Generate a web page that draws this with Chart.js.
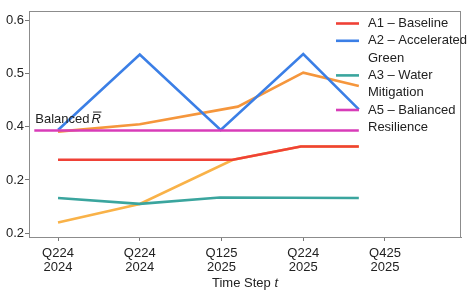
<!DOCTYPE html>
<html>
<head>
<meta charset="utf-8">
<script src="https://cdn.jsdelivr.net/npm/chart.js@4.4.1/dist/chart.umd.min.js"></script>
<style>
  html, body { margin: 0; padding: 0; background: #fff; overflow: hidden; }
  #wrap { position: absolute; left: -6px; top: 0; width: 477px; height: 294px; }
</style>
</head>
<body>
<div id="wrap"><canvas id="chart"></canvas></div>
<script>
// tick positions / labels
const xTickPos = [0, 1, 2, 3, 4];
const xTickLabels = [['Q224', '2024'], ['Q224', '2024'], ['Q125', '2025'], ['Q224', '2025'], ['Q425', '2025']];
const yTickPos = [0.2, 0.3, 0.4, 0.5, 0.6];
const yTickLabels = ['0.2', '0.2', '0.4', '0.5', '0.6'];

// series (x = time step index, y = value)
const a1X = [0, 2.14, 2.97, 3.68];
const a1Y = [0.338, 0.338, 0.363, 0.363];
const a2X = [0, 1, 1.99, 3, 3.68];
const a2Y = [0.394, 0.536, 0.394, 0.537, 0.433];
const a3X = [0, 1, 1.98, 3.68];
const a3Y = [0.266, 0.255, 0.267, 0.266];
const a5X = [-0.29, 3.68];
const a5Y = [0.393, 0.393];
const a4aX = [0, 1, 2.2, 3, 3.68];
const a4aY = [0.391, 0.405, 0.438, 0.502, 0.477];
const a4bX = [0, 1, 2.14, 2.97, 3.68];
const a4bY = [0.220, 0.255, 0.338, 0.363, 0.363];

const legendLines = [['A1 – Baseline'], ['A2 – Accelerated', 'Green'], ['A3 – Water', 'Mitigation'], ['A5 – Balianced', 'Resilience']];

const pts = (xs, ys) => xs.map((x, i) => ({ x: x, y: ys[i] }));
const FONT = "'Liberation Sans', Arial, sans-serif";
const FS = 13;

function line(label, xs, ys, color, order, inLegend) {
  return {
    label: label,
    data: pts(xs, ys),
    borderColor: color,
    backgroundColor: color,
    borderWidth: 2.6,
    pointRadius: 0,
    tension: 0,
    fill: false,
    order: order,
    inLegend: inLegend
  };
}

const extras = {
  id: 'extras',
  afterDraw(chart) {
    const ctx = chart.ctx;
    const a = chart.chartArea;
    const xs = chart.scales.x, ys = chart.scales.y;
    ctx.save();
    // frame
    ctx.strokeStyle = '#8c8c8c';
    ctx.lineWidth = 1;
    ctx.strokeRect(a.left + 0.5, a.top + 0.5, a.right - a.left - 1, a.bottom - a.top);

    // annotation
    ctx.fillStyle = '#222';
    ctx.textBaseline = 'alphabetic';
    ctx.textAlign = 'left';
    ctx.font = FS + 'px ' + FONT;
    const ax = xs.getPixelForValue(a5X[0]) + 1;
    const ay = ys.getPixelForValue(a5Y[0]) - 8;
    ctx.fillText('Balanced', ax, ay);
    const w1 = ctx.measureText('Balanced').width + 2;
    ctx.font = 'italic ' + FS + 'px ' + FONT;
    ctx.fillText('R', ax + w1, ay);
    const rw = ctx.measureText('R').width;
    ctx.fillRect(ax + w1 + 1.5, ay - 11, rw - 1, 1);

    // axis title
    ctx.font = FS + 'px ' + FONT;
    const t1 = 'Time Step ';
    const tw1 = ctx.measureText(t1).width;
    ctx.font = 'italic ' + FS + 'px ' + FONT;
    const tw2 = ctx.measureText('t').width;
    const tx = (a.left + a.right) / 2 - (tw1 + tw2) / 2;
    ctx.font = FS + 'px ' + FONT;
    ctx.fillText(t1, tx, 287);
    ctx.font = 'italic ' + FS + 'px ' + FONT;
    ctx.fillText('t', tx + tw1, 287);

    // legend
    ctx.font = FS + 'px ' + FONT;
    ctx.textBaseline = 'middle';
    const legendSets = chart.data.datasets.filter(d => d.inLegend);
    let k = 0;
    legendSets.forEach((d, i) => {
      const y = a.top + 12.5 + 17.3 * k;
      ctx.strokeStyle = d.borderColor;
      ctx.lineWidth = 2.6;
      ctx.beginPath();
      ctx.moveTo(a.right - 125, y);
      ctx.lineTo(a.right - 102, y);
      ctx.stroke();
      legendLines[i].forEach(txt => {
        ctx.fillStyle = '#222';
        ctx.fillText(txt, a.right - 93, a.top + 12.5 + 17.3 * k);
        k++;
      });
    });
    ctx.restore();
  }
};

new Chart(document.getElementById('chart'), {
  type: 'line',
  data: {
    datasets: [
      line('A1 – Baseline', a1X, a1Y, '#ef4136', 1, true),
      line('A2 – Accelerated Green', a2X, a2Y, '#3b7fe6', 2, true),
      line('A3 – Water Mitigation', a3X, a3Y, '#3aa59e', 4, true),
      line('A5 – Balianced Resilience', a5X, a5Y, '#d83cb8', 0, true),
      line('A4 upper', a4aX, a4aY, '#f5963c', 3, false),
      line('A4 lower', a4bX, a4bY, '#f9b248', 5, false)
    ]
  },
  options: {
    responsive: true,
    maintainAspectRatio: false,
    animation: false,
    devicePixelRatio: 1,
    layout: { padding: { top: 11, right: 10, left: 0, bottom: 0 } },
    plugins: { legend: { display: false }, tooltip: { enabled: false } },
    scales: {
      x: {
        type: 'linear',
        min: -0.355,
        max: 4.93,
        afterBuildTicks: s => { s.ticks = xTickPos.map(v => ({ value: v })); },
        afterFit: s => { s.height = 57; },
        grid: { display: true, drawOnChartArea: false, drawTicks: true, tickLength: 4, color: '#777' },
        border: { display: true, color: '#8c8c8c' },
        ticks: {
          padding: 5,
          color: '#222',
          maxRotation: 0,
          autoSkip: false,
          font: { family: FONT, size: FS, lineHeight: 1.12 },
          callback: (v) => xTickLabels[xTickPos.indexOf(v)]
        }
      },
      y: {
        min: 0.1927,
        max: 0.618,
        afterBuildTicks: s => { s.ticks = yTickPos.map(v => ({ value: v })); },
        afterFit: s => { s.width = 35; },
        grid: { display: true, drawOnChartArea: false, drawTicks: true, tickLength: 4, color: '#777' },
        border: { display: true, color: '#8c8c8c' },
        ticks: {
          padding: 1,
          color: '#222',
          font: { family: FONT, size: FS },
          callback: (v) => yTickLabels[yTickPos.indexOf(v)]
        }
      }
    }
  },
  plugins: [extras]
});
</script>
</body>
</html>
